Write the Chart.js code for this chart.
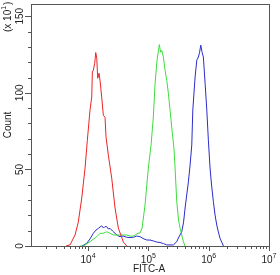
<!DOCTYPE html>
<html>
<head>
<meta charset="utf-8">
<script src="https://cdn.jsdelivr.net/npm/chart.js@4.4.0/dist/chart.umd.min.js"></script>
<style>
  body { margin: 0; background: #fff; }
  #wrap { width: 280px; height: 275px; }
</style>
</head>
<body>
<div id="wrap"><canvas id="histograma"></canvas></div>
<script>
const rojoFitc = [4315, 5035, 6095, 6905, 7870, 8935, 9750, 10790, 11530, 11800, 12250, 12910, 13430, 13960, 14490, 15240, 15820, 16870, 17950, 19140, 19910, 21730, 24720, 28050, 31840, 38550, 43850];
const rojoCuenta = [0, 0.7, 7.2, 15.6, 31.3, 50.9, 69.1, 88.7, 97.3, 113.6, 114.8, 119.3, 126.3, 122.6, 109.5, 112.8, 108.2, 97.1, 85.4, 84, 71, 59.3, 44.3, 24.8, 11.7, 2.6, 0];

const verdeFitc = [7380, 8360, 10790, 13960, 15820, 17950, 20420, 23170, 26300, 33960, 43850, 49770, 56490, 67500, 72920, 78700, 88100, 100000, 110900, 121100, 129200, 139300, 152300, 159500, 166800, 177400, 189300, 201900, 214600, 229100, 250000, 266700, 277300, 295800, 316800, 335600, 381000, 406400];
const verdeCuenta = [0, 0, 2.8, 6.1, 8.3, 8.3, 9.3, 8.3, 7.2, 7.2, 7.2, 6.5, 6.5, 8.3, 8.5, 11.7, 26.7, 50.9, 65.9, 84.3, 106.1, 121.3, 131.5, 126.5, 127.8, 123.4, 114.8, 108.2, 99.8, 88.7, 73.7, 63.2, 50.9, 28.9, 17, 11.7, 2.8, 0];

const azulFitc = [7960, 9530, 10790, 12250, 13580, 14830, 15820, 16870, 18070, 19140, 20420, 21730, 23170, 25500, 28050, 30850, 33960, 38100, 43850, 49770, 56490, 63830, 72920, 81700, 94200, 106700, 121100, 136800, 156300, 177400, 201900, 229100, 260000, 295800, 314500, 358100, 383700, 406400, 461300, 492000, 524800, 545800, 595700, 635300, 676100, 706800, 739600, 777500, 816600, 873000, 931100, 988500, 1054000, 1117000, 1197000, 1277000, 1362000, 1449000, 1545000, 1667000, 1754000];
const azulCuenta = [0, 1.8, 4.6, 8.3, 10.4, 11.5, 12.4, 13.2, 11.7, 12.7, 12.6, 11.1, 11.5, 9.8, 8.3, 6.8, 6.1, 6.5, 5.7, 5.5, 5.7, 6.5, 6.1, 4.9, 3.9, 3.9, 3.3, 2.6, 2.3, 1.6, 0.7, 0.7, 0.7, 2.8, 5.2, 9.3, 15.6, 24.8, 41.9, 52.8, 65.9, 88.7, 110.4, 121.3, 123.4, 126.5, 131.1, 126.5, 123.4, 106.1, 88.7, 69.1, 50.9, 39.8, 28.9, 20.2, 13.7, 9.1, 5, 2, 0];

// Marcas de los ejes
const xMayores = [1e4, 1e5, 1e6, 1e7];
const xExponentes = ['4', '5', '6', '7'];
const yMayores = [0, 50, 100, 150];
const yEtiquetas = ['0', '50', '100', '150'];

const fuente = '"Liberation Sans", Arial, sans-serif';

function puntos(xs, ys) {
    return xs.map((x, i) => ({ x: x, y: ys[i] }));
}

// Plugin para dibujar marco, marcas y textos al estilo del citómetro
const ejesCitometro = {
    id: 'ejesCitometro',
    afterDraw(chart) {
        const ctx = chart.ctx;
        const a = chart.chartArea;
        const sx = chart.scales.x;
        const sy = chart.scales.y;
        ctx.save();
        ctx.strokeStyle = '#555';
        ctx.lineWidth = 1;
        ctx.strokeRect(Math.round(a.left) + 0.5, Math.round(a.top) + 0.5, Math.round(a.right - a.left), Math.round(a.bottom - a.top));

        // marcas eje y
        ctx.beginPath();
        for (let v = 0; v <= 150; v += 10) {
            const py = Math.round(sy.getPixelForValue(v)) + 0.5;
            const largo = v % 50 === 0 ? 6 : 3;
            ctx.moveTo(a.left - largo, py);
            ctx.lineTo(a.left, py);
        }
        // marcas eje x
        for (let e = 3; e < 7; e++) {
            for (let m = 1; m <= 9; m++) {
                const v = m * Math.pow(10, e);
                if (v < sx.min) continue;
                const px = Math.round(sx.getPixelForValue(v)) + 0.5;
                const largo = m === 1 ? 5 : 3;
                ctx.moveTo(px, a.bottom);
                ctx.lineTo(px, a.bottom + largo);
            }
        }
        const pxFin = Math.round(sx.getPixelForValue(1e7)) + 0.5;
        ctx.moveTo(pxFin, a.bottom);
        ctx.lineTo(pxFin, a.bottom + 5);
        ctx.stroke();

        ctx.fillStyle = '#222';
        ctx.textBaseline = 'middle';

        // etiquetas eje x
        xMayores.forEach((v, i) => {
            const px = sx.getPixelForValue(v);
            ctx.font = '10px ' + fuente;
            const w1 = ctx.measureText('10').width;
            ctx.font = '7px ' + fuente;
            const w2 = ctx.measureText(xExponentes[i]).width;
            const x0 = px - (w1 + w2) / 2;
            ctx.textAlign = 'left';
            ctx.font = '10px ' + fuente;
            ctx.fillText('10', x0, a.bottom + 14);
            ctx.font = '7px ' + fuente;
            ctx.fillText(xExponentes[i], x0 + w1, a.bottom + 10);
        });
        ctx.font = '10px ' + fuente;
        ctx.textAlign = 'center';
        ctx.fillText('FITC-A', 149, a.bottom + 23);

        // etiquetas eje y (giradas)
        yMayores.forEach((v, i) => {
            const py = sy.getPixelForValue(v);
            ctx.save();
            ctx.translate(20, py);
            ctx.rotate(-Math.PI / 2);
            ctx.textAlign = 'center';
            ctx.fillText(yEtiquetas[i], 0, 0);
            ctx.restore();
        });
        ctx.save();
        ctx.translate(8, (a.top + a.bottom) / 2);
        ctx.rotate(-Math.PI / 2);
        ctx.textAlign = 'center';
        ctx.fillText('Count', 0, 0);
        ctx.restore();

        // factor de escala "(x 10¹)"
        ctx.save();
        ctx.translate(8, 32);
        ctx.rotate(-Math.PI / 2);
        ctx.textAlign = 'left';
        ctx.font = '10px ' + fuente;
        const wa = ctx.measureText('(x 10').width;
        ctx.fillText('(x 10', 0, 0);
        ctx.font = '7px ' + fuente;
        ctx.fillText('1', wa, -4);
        const wb = ctx.measureText('1').width;
        ctx.font = '10px ' + fuente;
        ctx.fillText(')', wa + wb + 1, 0);
        ctx.restore();

        ctx.restore();
    }
};

const serie = (datos, color) => ({
    data: datos,
    showLine: true,
    borderColor: color,
    borderWidth: 1,
    pointRadius: 0,
    tension: 0,
    fill: false
});

new Chart(document.getElementById('histograma').getContext('2d'), {
    type: 'scatter',
    data: {
        datasets: [
            serie(puntos(rojoFitc, rojoCuenta), '#ec2424'),
            serie(puntos(verdeFitc, verdeCuenta), '#3ddc3d'),
            serie(puntos(azulFitc, azulCuenta), '#2b2bcc')
        ]
    },
    options: {
        responsive: true,
        maintainAspectRatio: false,
        animation: false,
        layout: { padding: { top: 4, right: 11, left: 0, bottom: 0 } },
        plugins: { legend: { display: false }, tooltip: { enabled: false } },
        scales: {
            x: {
                type: 'logarithmic',
                min: 1135,
                max: 1e7,
                grid: { display: false },
                border: { display: false },
                ticks: { display: false },
                afterFit: s => { s.height = 29; }
            },
            y: {
                min: 0,
                max: 158,
                grid: { display: false },
                border: { display: false },
                ticks: { display: false, stepSize: 10 },
                afterFit: s => { s.width = 31; }
            }
        }
    },
    plugins: [ejesCitometro]
});
</script>
</body>
</html>
